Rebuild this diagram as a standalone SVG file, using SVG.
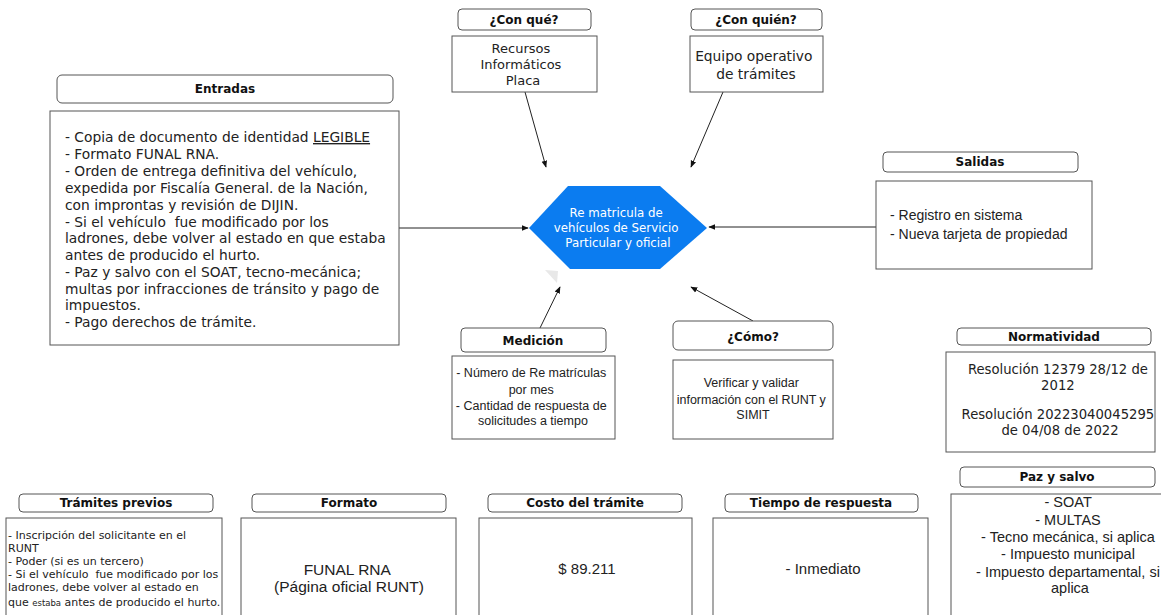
<svg xmlns="http://www.w3.org/2000/svg" width="1161" height="615" viewBox="0 0 1161 615">
<defs>
<marker id="ah" viewBox="0 0 10 10" refX="9" refY="5" markerWidth="7" markerHeight="7" orient="auto" markerUnits="userSpaceOnUse">
<path d="M0,1 L10,5 L0,9 Z" fill="#111"/>
</marker>
<style>
.hdr{fill:#fff;stroke:#555;stroke-width:1}
.box{fill:#fff;stroke:#555;stroke-width:1}
.ht{font-family:"DejaVu Sans",Verdana,sans-serif;font-weight:bold;font-size:12px;fill:#111;text-anchor:middle}
.vt{font-family:"DejaVu Sans",Verdana,sans-serif;fill:#222}
.at{font-family:"Liberation Sans",Arial,sans-serif;fill:#222}
.c{text-anchor:middle}
.conn{stroke:#222;stroke-width:1;fill:none;marker-end:url(#ah)}
</style>
</defs>
<rect width="1161" height="615" fill="#fff"/>

<g id="connectors">
<line class="conn" x1="399" y1="228" x2="528" y2="228"/>
<line class="conn" x1="876" y1="227" x2="709" y2="227"/>
<line class="conn" x1="525" y1="92" x2="546" y2="167"/>
<line class="conn" x1="723" y1="92" x2="691" y2="167"/>
<line class="conn" x1="540" y1="328" x2="560" y2="287"/>
<line class="conn" x1="753" y1="321" x2="691" y2="287"/>
</g>

<polygon points="545,270 558,271 557,283" fill="#e8e8e8"/>

<g id="center">
<polygon points="529,228 568,186 660,186 707,228 660,269 570,269" fill="#0b7cf0"/>
<text font-family="'DejaVu Sans',Verdana,sans-serif" font-size="11.8" fill="#fff" text-anchor="middle">
<tspan x="618" y="217">Re matricula de</tspan>
<tspan x="618" y="232">vehículos de Servicio</tspan>
<tspan x="618" y="247">Particular y oficial</tspan>
</text>
</g>

<g id="entradas">
<rect class="hdr" x="57" y="75" width="336" height="28" rx="5"/>
<text class="ht" x="225" y="93" font-size="12.5">Entradas</text>
<rect class="box" x="50" y="111" width="349" height="234"/>
<text class="vt" font-size="13.8">
<tspan x="65" y="142">- Copia de documento de identidad <tspan text-decoration="underline">LEGIBLE</tspan></tspan>
<tspan x="65" y="159">- Formato FUNAL RNA.</tspan>
<tspan x="65" y="176">- Orden de entrega definitiva del vehículo,</tspan>
<tspan x="65" y="193">expedida por Fiscalía General. de la Nación,</tspan>
<tspan x="65" y="210">con improntas y revisión de DIJIN.</tspan>
<tspan x="65" y="227">- Si el vehículo&#160; fue modificado por los</tspan>
<tspan x="65" y="243">ladrones, debe volver al estado en que estaba</tspan>
<tspan x="65" y="260">antes de producido el hurto.</tspan>
<tspan x="65" y="277">- Paz y salvo con el SOAT, tecno-mecánica;</tspan>
<tspan x="65" y="294">multas por infracciones de tránsito y pago de</tspan>
<tspan x="65" y="310">impuestos.</tspan>
<tspan x="65" y="327">- Pago derechos de trámite.</tspan>
</text>
</g>

<g id="conque">
<rect class="hdr" x="458" y="9" width="133" height="21" rx="4"/>
<text class="ht" x="524" y="24">¿Con qué?</text>
<rect class="box" x="452" y="36" width="145" height="56"/>
<text class="vt c" font-size="13">
<tspan x="523" y="53">Recursos</tspan>
<tspan x="523" y="69">Informáticos</tspan>
<tspan x="523" y="85">Placa</tspan>
</text>
</g>

<g id="conquien">
<rect class="hdr" x="691" y="9" width="131" height="21" rx="4"/>
<text class="ht" x="756" y="24">¿Con quién?</text>
<rect class="box" x="690" y="36" width="133" height="56"/>
<text class="vt c" font-size="13.8">
<tspan x="756" y="61">Equipo operativo</tspan>
<tspan x="756" y="79">de trámites</tspan>
</text>
</g>

<g id="salidas">
<rect class="hdr" x="883" y="152" width="195" height="20" rx="4"/>
<text class="ht" x="980" y="166">Salidas</text>
<rect class="box" x="876" y="181" width="216" height="88"/>
<text class="at" font-size="14">
<tspan x="890" y="220">- Registro en sistema</tspan>
<tspan x="890" y="239">- Nueva tarjeta de propiedad</tspan>
</text>
</g>

<g id="medicion">
<rect class="hdr" x="461" y="328" width="145" height="24" rx="4"/>
<text class="ht" x="533" y="345">Medición</text>
<rect class="box" x="452" y="356" width="163" height="83"/>
<text class="at c" font-size="12.5">
<tspan x="533" y="377">- Número de Re matrículas</tspan>
<tspan x="533" y="394">por mes</tspan>
<tspan x="533" y="410">- Cantidad de respuesta de</tspan>
<tspan x="533" y="425">solicitudes a tiempo</tspan>
</text>
</g>

<g id="como">
<rect class="hdr" x="673" y="321" width="160" height="29" rx="5"/>
<text class="ht" x="753" y="341">¿Cómo?</text>
<rect class="box" x="673" y="360" width="160" height="79"/>
<text class="at c" font-size="12.5">
<tspan x="753" y="387">Verificar y validar</tspan>
<tspan x="753" y="404">información con el RUNT y</tspan>
<tspan x="753" y="419">SIMIT</tspan>
</text>
</g>

<g id="normatividad">
<rect class="hdr" x="957" y="328" width="194" height="17" rx="4"/>
<text class="ht" x="1054" y="341">Normatividad</text>
<rect class="box" x="946" y="352" width="209" height="100"/>
<text class="vt c" font-size="13.2">
<tspan x="1060" y="374">Resolución 12379 28/12 de</tspan>
<tspan x="1060" y="390">2012</tspan>
<tspan x="1060" y="419">Resolución 20223040045295</tspan>
<tspan x="1060" y="435">de 04/08 de 2022</tspan>
</text>
</g>

<g id="pazysalvo">
<rect class="hdr" x="960" y="467" width="195" height="20" rx="4"/>
<text class="ht" x="1057" y="481">Paz y salvo</text>
<rect class="box" x="951" y="494" width="214" height="130"/>
<text class="at c" font-size="14.5">
<tspan x="1070" y="507">- SOAT</tspan>
<tspan x="1070" y="525">- MULTAS</tspan>
<tspan x="1070" y="542">- Tecno mecánica, si aplica</tspan>
<tspan x="1070" y="559">- Impuesto municipal</tspan>
<tspan x="1070" y="577">- Impuesto departamental, si</tspan>
<tspan x="1070" y="593">aplica</tspan>
</text>
</g>

<g id="tramites">
<rect class="hdr" x="19" y="494" width="194" height="18" rx="4"/>
<text class="ht" x="116" y="507">Trámites previos</text>
<rect class="box" x="6" y="518" width="216" height="110"/>
<text class="vt" font-size="11">
<tspan x="8" y="539">- Inscripción del solicitante en el</tspan>
<tspan x="8" y="552">RUNT</tspan>
<tspan x="8" y="565">- Poder (si es un tercero)</tspan>
<tspan x="8" y="578">- Si el vehículo&#160; fue modificado por los</tspan>
<tspan x="8" y="591">ladrones, debe volver al estado en</tspan>
<tspan x="8" y="606">que <tspan font-size="8.5">estaba</tspan> antes de producido el hurto.</tspan>
</text>
</g>

<g id="formato">
<rect class="hdr" x="252" y="494" width="194" height="18" rx="4"/>
<text class="ht" x="349" y="507">Formato</text>
<rect class="box" x="241" y="518" width="215" height="110"/>
<text class="at c" font-size="15.5">
<tspan x="349" y="575">FUNAL RNA</tspan>
<tspan x="349" y="592">(Página oficial RUNT)</tspan>
</text>
</g>

<g id="costo">
<rect class="hdr" x="488" y="494" width="194" height="18" rx="4"/>
<text class="ht" x="585" y="507">Costo del trámite</text>
<rect class="box" x="479" y="518" width="213" height="110"/>
<text class="at c" x="587" y="574" font-size="15">$ 89.211</text>
</g>

<g id="tiempo">
<rect class="hdr" x="725" y="494" width="193" height="18" rx="4"/>
<text class="ht" x="821" y="507">Tiempo de respuesta</text>
<rect class="box" x="713" y="518" width="215" height="110"/>
<text class="at c" x="823" y="574" font-size="15">- Inmediato</text>
</g>
</svg>
